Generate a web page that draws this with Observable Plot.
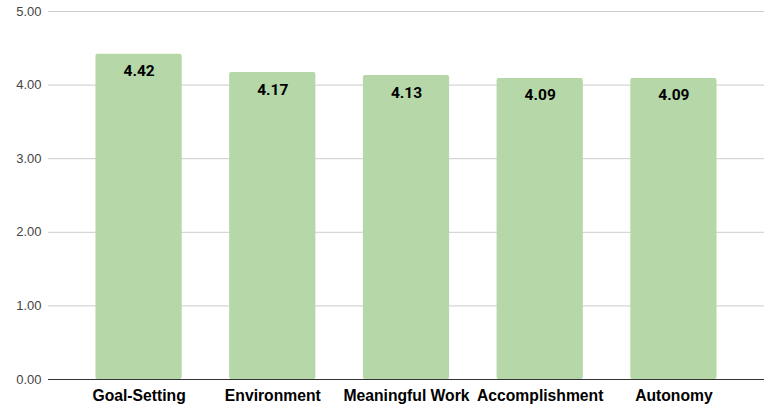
<!DOCTYPE html>
<html>
<head>
<meta charset="utf-8">
<script src="https://cdn.jsdelivr.net/npm/d3@7"></script>
<script src="https://cdn.jsdelivr.net/npm/@observablehq/plot@0.6"></script>
<style>
  html, body { margin: 0; padding: 0; background: #fff; }
</style>
</head>
<body>
<div id="chart"></div>
<script>
const categories = ["Goal-Setting", "Environment", "Meaningful Work", "Accomplishment", "Autonomy"];
const values = [4.42, 4.17, 4.13, 4.09, 4.09];
const yTicks = [0, 1, 2, 3, 4, 5];

const data = categories.map((c, i) => ({category: c, value: values[i]}));

const chart = Plot.plot({
  width: 771,
  height: 409,
  marginTop: 11,
  marginBottom: 30,
  marginLeft: 48,
  marginRight: 7,
  style: {fontFamily: "Arial, 'Liberation Sans', sans-serif", background: "#fff"},
  x: {domain: categories, padding: 0.355, round: false, label: null},
  y: {domain: [0, 5], ticks: yTicks, label: null},
  marks: [
    Plot.gridY(yTicks, {stroke: "#cccccc", strokeOpacity: 1, strokeWidth: 1}),
    Plot.axisY(yTicks, {
      tickSize: 0, tickPadding: 7, tickFormat: d => d.toFixed(2),
      fontSize: 13, fill: "#444", label: null,
      fontFamily: "Arial, 'Liberation Sans', sans-serif"
    }),
    Plot.barY(data, {x: "category", y: "value", fill: "#b6d7a8", rx: 2}),
    Plot.ruleY([0], {stroke: "#333", strokeWidth: 1}),
    Plot.text(data, {
      x: "category", y: "value", text: d => d.value.toFixed(2),
      dy: 17, fontSize: 15.5, fontWeight: "bold", fill: "#000",
      fontFamily: "Roboto, Arial, sans-serif"
    }),
    Plot.axisX({
      tickSize: 0, tickPadding: 10, fontSize: 15.7, fontWeight: "bold",
      fill: "#000", label: null
    })
  ]
});
document.getElementById("chart").appendChild(chart);
</script>
</body>
</html>
